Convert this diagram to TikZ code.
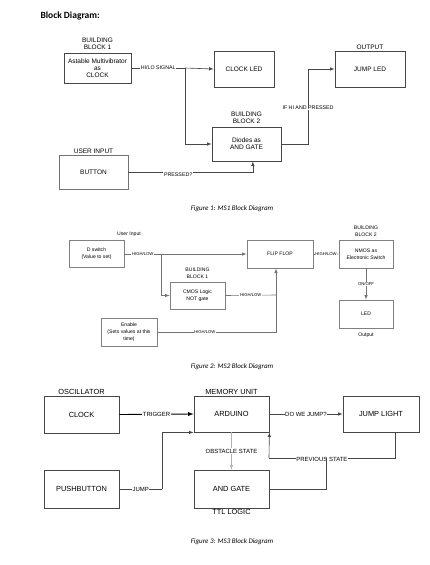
\documentclass[tikz,border=0pt]{standalone}
\usepackage{fontspec}
\setmainfont{Liberation Sans}
\newfontfamily\capfont{Carlito}
\usepackage{tikz}
\usetikzlibrary{shapes,arrows}
\usetikzlibrary{positioning}
\tikzstyle{diagblock} = [rectangle, draw=black!72, line width=0.8pt, align=center, inner sep=1pt]
\tikzstyle{tagtext} = [align=center, inner sep=0.4pt]
\tikzstyle{linklabel} = [fill=white, inner sep=0.6pt]
\tikzstyle{wire} = [draw=black!72, line width=0.6pt]
\tikzstyle{figcaption} = [font=\capfont\itshape\fontsize{7}{8}\selectfont]

\begin{document}
\begin{tikzpicture}[x=1pt, y=-1pt, node distance=1pt, >=latex]
    \useasboundingbox (0,0) rectangle (430,565);
    \node [anchor=base west, font=\capfont\bfseries\fontsize{9.5}{11}\selectfont] (title) at (37,18) {Block Diagram:};

    % MS1
    \begin{scope}[font=\fontsize{6.5}{7}\selectfont, linklabel/.append style={font=\fontsize{5.3}{6}\selectfont}]
    \node [diagblock, minimum width=67pt, minimum height=30pt] (astable) at (97.5,68) {Astable Multivibrator\\as\\CLOCK};
    \node [diagblock, minimum width=60pt, minimum height=36pt] (clockled) at (244,69) {CLOCK LED};
    \node [diagblock, minimum width=70pt, minimum height=36pt] (jumpled) at (370,69) {JUMP LED};
    \node [diagblock, minimum width=69pt, minimum height=34pt] (andgate) at (246.5,144) {Diodes as\\AND GATE};
    \node [diagblock, draw=black!55, minimum width=69pt, minimum height=34pt] (button) at (93.5,172) {BUTTON};
    \node [tagtext, above=2pt of astable] (bbone) {BUILDING\\BLOCK 1};
    \node [tagtext, above=0.3pt of jumpled] (output) {OUTPUT};
    \node [tagtext, above=2pt of andgate] (bbtwo) {BUILDING\\BLOCK 2};
    \node [tagtext, above=0.3pt of button] (userin) {USER INPUT};
    % Draw edges
    \coordinate (hilo) at (185,68);
    \coordinate (ifhi) at (308,108);
    \draw [wire] (astable.east) -- node [linklabel] {HI/LO SIGNAL} (hilo);
    \draw [wire, ->] (hilo) -- (clockled.west);
    \draw [wire, ->] (hilo) |- (andgate.west);
    \draw [wire] (andgate.east) -| (ifhi) node [linklabel] {IF HI AND PRESSED};
    \draw [wire, ->] (ifhi) |- (jumpled.west);
    \draw [wire, ->] (button.east) -| node [linklabel, pos=0.2, below] {PRESSED?} (andgate.290);
    \end{scope}
    \node [figcaption] (capone) at (232,209) {Figure 1: MS1 Block Diagram};

    % MS2
    \begin{scope}[font=\fontsize{5.1}{7}\selectfont, linklabel/.append style={font=\fontsize{4.2}{5}\selectfont}, wire/.append style={draw=black!55}, diagblock/.append style={draw=black!50}]
    \node [diagblock, minimum width=55pt, minimum height=27pt] (dswitch) at (96.5,254) {D switch\\(Value to set)};
    \node [diagblock, minimum width=66pt, minimum height=28pt] (flipflop) at (280,254) {FLIP FLOP};
    \node [diagblock, minimum width=55pt, minimum height=27pt] (cmos) at (197.5,295.5) {CMOS Logic\\NOT gate};
    \node [diagblock, minimum width=56pt, minimum height=28pt] (enable) at (129,332) {Enable\\(Sets values at this\\time)};
    \node [diagblock, minimum width=54pt, minimum height=28pt] (nmos) at (366,254) {NMOS as\\Electronic Switch};
    \node [diagblock, minimum width=54pt, minimum height=28pt] (led) at (366,314) {LED};
    \node [tagtext] (userinput) at (129,234) {User Input};
    \node [tagtext, above=2pt of cmos] (bbthree) {BUILDING\\BLOCK 1};
    \node [tagtext, above=2pt of nmos] (bbfour) {BUILDING\\BLOCK 2};
    \node [tagtext, below=4pt of led] (outlabel) {Output};
    % Draw edges
    \coordinate (dsplit) at (161,254);
    \coordinate (ffjoin) at (276,295);
    \draw [wire] (dswitch.east) -- node [linklabel] {HIGH/LOW} (dsplit);
    \draw [wire, ->] (dsplit) -- (flipflop.west);
    \draw [wire, ->] (dsplit) |- (cmos.west);
    \draw [wire] (cmos.east) -- node [linklabel] {HIGH/LOW} (ffjoin);
    \draw [wire] (enable.east) -| node [linklabel, pos=0.2] {HIGH/LOW} (ffjoin);
    \draw [wire, ->] (ffjoin) -- (ffjoin |- flipflop.south);
    \draw [wire, ->] (flipflop.east) -- node [linklabel] {HIGH/LOW} (nmos.west);
    \draw [wire, ->] (nmos.south) -- node [linklabel] {ON/OFF} (led.north);
    \end{scope}
    \node [figcaption] (captwo) at (232,367) {Figure 2: MS2 Block Diagram};

    % MS3
    \begin{scope}[font=\fontsize{7.4}{8}\selectfont, linklabel/.append style={font=\fontsize{6}{7}\selectfont}]
    \node [diagblock, minimum width=75pt, minimum height=37pt] (clock) at (81.5,414.5) {CLOCK};
    \node [diagblock, minimum width=75pt, minimum height=36pt] (arduino) at (231.5,414) {ARDUINO};
    \node [diagblock, minimum width=76pt, minimum height=36pt] (jumplight) at (381,414) {JUMP LIGHT};
    \node [diagblock, minimum width=75pt, minimum height=38pt] (pushbutton) at (81.5,489) {PUSHBUTTON};
    \node [diagblock, minimum width=75pt, minimum height=38pt] (gatettl) at (231.5,489) {AND GATE};
    \node [tagtext, above=0.3pt of clock] (osc) {OSCILLATOR};
    \node [tagtext, above=0.3pt of arduino] (memory) {MEMORY UNIT};
    \node [tagtext, below=0.3pt of gatettl] (ttl) {TTL LOGIC};
    % Draw edges
    \coordinate (jumpturn) at (162,489);
    \coordinate (prevturn) at (395,458);
    \coordinate (gatejoin) at (326,458);
    \coordinate (prevback) at (269,458);
    \draw [wire, draw=black, line width=0.9pt, ->] (clock.east) -- node [linklabel] {TRIGGER} (arduino.west);
    \draw [wire] (pushbutton.east) -- node [linklabel] {JUMP} (jumpturn);
    \draw [wire, ->] (jumpturn) |- (arduino.south west);
    \draw [wire, ->] (arduino.east) -- node [linklabel] {DO WE JUMP?} (jumplight.west);
    \draw [wire, draw=black!30, ->] (arduino.south) -- node [linklabel] {OBSTACLE STATE} (gatettl.north);
    \draw [wire] (jumplight.south -| prevturn) -- (prevturn) -- node [linklabel, pos=0.58, yshift=-1.5pt] {PREVIOUS STATE} (prevback);
    \draw [wire, ->] (prevback) -- (arduino.south east);
    \draw [wire] (gatettl.east) -| (gatejoin);
    \end{scope}
    \node [figcaption] (capthree) at (232,542) {Figure 3: MS3 Block Diagram};
\end{tikzpicture}
\end{document}
